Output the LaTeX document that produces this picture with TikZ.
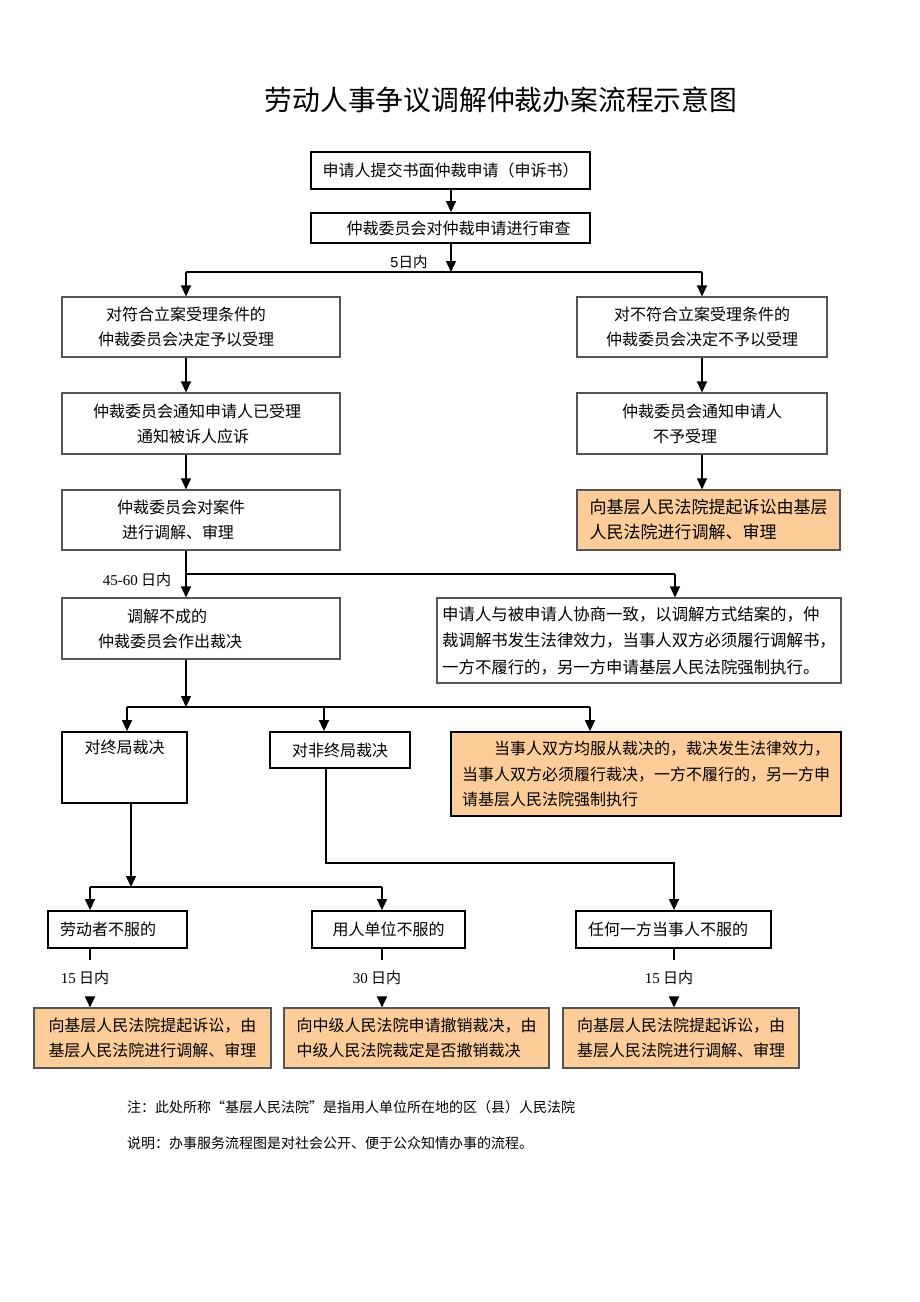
\documentclass[tikz,border=0pt]{standalone}
\usepackage{fontspec}
\setmainfont{Noto Sans CJK SC}
\newfontfamily\tnr{Liberation Serif}
\newfontfamily\ars{Liberation Sans}
\usetikzlibrary{arrows.meta}
\definecolor{orfill}{RGB}{252,204,153}
\definecolor{edgegray}{RGB}{85,85,85}
\begin{document}
\begin{tikzpicture}[x=1pt,y=-1pt,
  every node/.style={inner sep=0pt, font=\fontsize{16}{25}\selectfont},
  hardbox/.style={draw=black, line width=1.8pt, rectangle, align=center},
  softbox/.style={draw=edgegray, line width=1.1pt, rectangle, align=center},
  warmbox/.style={fill=orfill},
  conn/.style={line width=1.3pt, draw=black},
  arr/.style={conn, -{Triangle[length=11pt,width=10pt]}},
  lbl/.style={font=\fontsize{15}{18}\selectfont},
  notetext/.style={font=\fontsize{14}{18}\selectfont, anchor=west}
]
\fill[white] (0,0) rectangle (920,1302);
\useasboundingbox (0,0) rectangle (920,1302);

% title
\node[font=\fontsize{27.8}{30}\selectfont] (title) at (501,100) {劳动人事争议调解仲裁办案流程示意图};

% boxes
\node[hardbox, minimum width=279, minimum height=37] (A) at (450.5,170.5) {申请人提交书面仲裁申请（申诉书）};
\node[hardbox, minimum width=279, minimum height=30] (B) at (450.5,228) {\hspace*{16pt}仲裁委员会对仲裁申请进行审查};
\node[softbox, minimum width=278, minimum height=60] (C) at (201,327) {对符合立案受理条件的\hspace*{30pt}\\仲裁委员会决定予以受理\hspace*{30pt}};
\node[softbox, minimum width=250, minimum height=60] (D) at (702,327) {对不符合立案受理条件的\\仲裁委员会决定不予以受理};
\node[softbox, minimum width=278, minimum height=61] (E) at (201,423.5) {仲裁委员会通知申请人已受理\hspace*{8pt}\\通知被诉人应诉\hspace*{16pt}};
\node[softbox, minimum width=250, minimum height=61] (F) at (702,423.5) {仲裁委员会通知申请人\\不予受理\hspace*{34pt}};
\node[softbox, minimum width=278, minimum height=60] (G) at (201,520) {仲裁委员会对案件\hspace*{40pt}\\进行调解、审理\hspace*{46pt}};
\node[softbox, warmbox, align=left, minimum width=263, minimum height=60, font=\fontsize{17}{25}\selectfont] (H) at (708.5,520) {向基层人民法院提起诉讼由基层\\人民法院进行调解、审理};
\node[softbox, minimum width=278, minimum height=61] (I) at (201,628.5) {调解不成的\hspace*{68pt}\\仲裁委员会作出裁决\hspace*{62pt}};
\node[softbox, align=left, minimum width=404, minimum height=85, font=\fontsize{16.4}{26.5}\selectfont] (J) at (639,640.5) {申请人与被申请人协商一致，以调解方式结案的，仲\\裁调解书发生法律效力，当事人双方必须履行调解书，\\一方不履行的，另一方申请基层人民法院强制执行。};

\node[hardbox, minimum width=125, minimum height=71] (K) at (124.5,767.5) {};
\node (Kt) at ([yshift=-16pt]K.north) {对终局裁决};
\node[hardbox, minimum width=140, minimum height=36] (L) at (340,750) {对非终局裁决};
\node[hardbox, warmbox, align=left, minimum width=390, minimum height=84, font=\fontsize{16}{25.5}\selectfont] (M) at (646,774) {\hspace*{2em}当事人双方均服从裁决的，裁决发生法律效力，\\当事人双方必须履行裁决，一方不履行的，另一方申\\请基层人民法院强制执行};

\node[hardbox, minimum width=139, minimum height=37] (N) at (117.5,929.5) {劳动者不服的\hspace*{19pt}};
\node[hardbox, minimum width=153, minimum height=37] (O) at (388.5,929.5) {用人单位不服的};
\node[hardbox, minimum width=195, minimum height=37] (P) at (673.5,929.5) {任何一方当事人不服的\hspace*{11pt}};

\node[softbox, warmbox, align=left, minimum width=237, minimum height=60] (Q) at (152.5,1038) {向基层人民法院提起诉讼，由\\基层人民法院进行调解、审理};
\node[softbox, warmbox, align=left, minimum width=265, minimum height=60] (R) at (416.5,1038) {向中级人民法院申请撤销裁决，由\\中级人民法院裁定是否撤销裁决};
\node[softbox, warmbox, align=left, minimum width=236, minimum height=60] (S) at (681,1038) {向基层人民法院提起诉讼，由\\基层人民法院进行调解、审理};

% labels
\node[lbl, font=\fontsize{14.5}{18}\selectfont] (l5) at (409,262) {{\ars 5}日内};
\node[lbl] (l4560) at (137,580) {{\tnr 45-60} 日内};
\node[lbl] (l15a) at (85,978) {{\tnr 15} 日内};
\node[lbl] (l30) at (377,978) {{\tnr 30} 日内};
\node[lbl] (l15b) at (669,978) {{\tnr 15} 日内};

% notes
\node[notetext] (n1) at (127,1107) {注：此处所称“基层人民法院”是指用人单位所在地的区（县）人民法院};
\node[notetext] (n2) at (127,1143) {说明：办事服务流程图是对社会公开、便于公众知情办事的流程。};

% junction coordinates
\coordinate (j1) at (451,272);
\coordinate (j1l) at (186,272);
\coordinate (j1r) at (702,272);
\coordinate (j2) at (186,574);
\coordinate (j2r) at (675,574);
\coordinate (j3) at (186,707);
\coordinate (j3l) at (127,707);
\coordinate (j3m) at (324,707);
\coordinate (j3r) at (590,707);
\coordinate (j4) at (131,887);
\coordinate (j4l) at (90,887);
\coordinate (j4r) at (382,887);
\coordinate (k1) at (326,863);
\coordinate (k2) at (674,863);
\coordinate (m1a) at (90,960);
\coordinate (m1b) at (90,997);
\coordinate (m2a) at (382,960);
\coordinate (m2b) at (382,997);
\coordinate (m3a) at (674,960);
\coordinate (m3b) at (674,997);

% connectors
\draw[arr] (j1 |- A.south) -- (j1 |- B.north);
\draw[arr] (j1 |- B.south) -- (j1);
\draw[conn] (j1l) -- (j1r);
\draw[arr] (j1l) -- (j1l |- C.north);
\draw[arr] (j1r) -- (j1r |- D.north);
\draw[arr] (j1l |- C.south) -- (j1l |- E.north);
\draw[arr] (j1l |- E.south) -- (j1l |- G.north);
\draw[arr] (j1r |- D.south) -- (j1r |- F.north);
\draw[arr] (j1r |- F.south) -- (j1r |- H.north);
\draw[arr] (j2 |- G.south) -- (j2 |- I.north);
\draw[conn] (j2) -- (j2r);
\draw[arr] (j2r) -- (j2r |- J.north);
\draw[arr] (j3 |- I.south) -- (j3);
\draw[conn] (j3l) -- (j3r);
\draw[arr] (j3l) -- (j3l |- K.north);
\draw[arr] (j3m) -- (j3m |- L.north);
\draw[arr] (j3r) -- (j3r |- M.north);
\draw[arr] (j4 |- K.south) -- (j4);
\draw[conn] (j4l) -- (j4r);
\draw[arr] (j4l) -- (j4l |- N.north);
\draw[arr] (j4r) -- (j4r |- O.north);
\draw[arr] (k1 |- L.south) -- (k1) -- (k2) -- (k2 |- P.north);
\draw[conn] (m1a |- N.south) -- (m1a);
\draw[arr] (m1b) -- (m1b |- Q.north);
\draw[conn] (m2a |- O.south) -- (m2a);
\draw[arr] (m2b) -- (m2b |- R.north);
\draw[conn] (m3a |- P.south) -- (m3a);
\draw[arr] (m3b) -- (m3b |- S.north);
\end{tikzpicture}
\end{document}
